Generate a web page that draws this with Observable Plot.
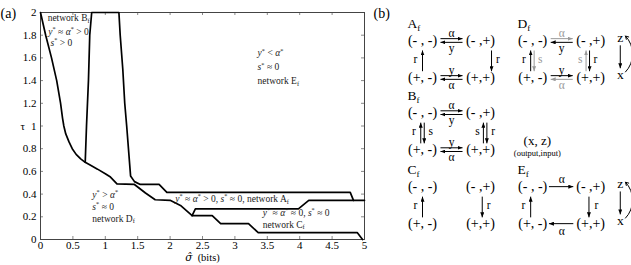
<!DOCTYPE html>
<html><head><meta charset="utf-8">
<script src="https://cdn.jsdelivr.net/npm/d3@7"></script>
<script src="https://cdn.jsdelivr.net/npm/@observablehq/plot@0.6"></script>
<style>
body{margin:0;background:#fff;}
#wrap{position:relative;width:631px;height:265px;overflow:hidden;font-family:"Liberation Serif",serif;}
#wrap svg{position:absolute;top:0;overflow:visible;}
#wrap svg, #wrap svg text{font-family:"Liberation Serif","DejaVu Serif",serif !important;}
#wrap svg text tspan.hat{font-family:"DejaVu Serif",serif !important;}
</style></head><body><div id="wrap"></div>
<script>
// ---------- panel (a) data ----------
const xTickValues = [0, 0.5, 1, 1.5, 2, 2.5, 3, 3.5, 4, 4.5, 5];
const yTickValues = [0, 0.2, 0.4, 0.6, 0.8, 1, 1.2, 1.4, 1.6, 1.8, 2];

// boundary of network B_f / D_f region (left curve + lower staircase)
const lowerX = [0, 0.08, 0.17, 0.25, 0.31, 0.34, 0.36, 0.39, 0.44, 0.49, 0.55, 0.62, 0.69, 0.8, 0.88, 1.0, 1.08, 1.18, 1.45, 1.62, 1.77, 2.0, 2.16, 2.34, 2.65, 2.78, 3.21, 3.36, 4.89, 4.97];
const lowerY = [2, 1.8, 1.6, 1.4, 1.2, 1.07, 1.0, 0.93, 0.86, 0.8, 0.75, 0.71, 0.68, 0.645, 0.62, 0.58, 0.55, 0.49, 0.485, 0.41, 0.35, 0.345, 0.3, 0.21, 0.21, 0.14, 0.14, 0.06, 0.06, 0];
// boundary of network A_f region
const upperX = [0.69, 0.71, 0.74, 0.76, 0.79, 1.21, 1.23, 1.27, 1.30, 1.33, 1.39, 1.45, 1.54, 1.83, 1.95, 4.78, 4.83];
const upperY = [0.68, 1.0, 1.4, 1.8, 2.0, 2.0, 1.8, 1.5, 1.2, 1.0, 0.56, 0.51, 0.485, 0.485, 0.415, 0.415, 0.345];
// boundary of network C_f region
const cBoundX = [2.34, 2.39, 3.98, 4.14, 5];
const cBoundY = [0.21, 0.27, 0.27, 0.345, 0.345];

const annoText = ["network B_f", "{y}^* ≈ {α}^* > 0", "{s}^* > 0",
  "{y}^* < {α}^*", "{s}^* ≈ 0", "network E_f",
  "{y}^* > {α}^*", "{s}^* ≈ 0", "network D_f",
  "{y}^* ≈ {α}^* > 0, {s}^* ≈ 0, network A_f",
  "{y}^* ≈ {α}^* ≈ 0, {s}^* ≈ 0", "network C_f"];
const annoX = [0.11, 0.12, 0.155, 3.35, 3.35, 3.35, 0.8, 0.8, 0.8, 2.08, 3.43, 3.43];
const annoY = [1.95, 1.83, 1.735, 1.64, 1.52, 1.40, 0.396, 0.29, 0.185, 0.36, 0.238, 0.132];

// ---------- panel (b) diagram data (grid units) ----------
const blockNames = ["A", "B", "C", "D", "E"];
const blockCol = [0, 0, 0, 1.9, 1.9];
const blockRow = [0, 1.95, 3.95, 0, 3.95];
const blockLabelRow = [-0.46, -0.46, -0.46, -0.46, -0.46];
const nodeText = ["(- , -)", "(- ,+)", "(+, -)", "(+,+)"];
const nodeCol = [0, 1, 0, 1];
const nodeRow = [0, 0, 1, 1];
// arrows: block, x1, y1, x2, y2, grey
const arrowDefs = [
  ["A",0.31,-0.05,0.69,-0.05,0],["A",0.69,0.05,0.31,0.05,0],["A",0.31,0.95,0.69,0.95,0],["A",0.69,1.05,0.31,1.05,0],
  ["A",0,0.83,0,0.27,0],["A",1.19,0.27,1.19,0.83,0],
  ["B",0.31,-0.05,0.69,-0.05,0],["B",0.69,0.05,0.31,0.05,0],["B",0.31,0.95,0.69,0.95,0],["B",0.69,1.05,0.31,1.05,0],
  ["B",-0.03,0.83,-0.03,0.27,0],["B",0.03,0.27,0.03,0.83,0],["B",1.05,0.83,1.05,0.27,0],["B",1.11,0.27,1.11,0.83,0],
  ["C",0,0.83,0,0.27,0],["C",1.03,0.27,1.03,0.83,0],
  ["D",0.31,-0.05,0.69,-0.05,1],["D",0.69,0.05,0.31,0.05,0],["D",0.31,0.95,0.69,0.95,0],["D",0.69,1.05,0.31,1.05,1],
  ["D",-0.035,0.83,-0.035,0.27,0],["D",0.025,0.27,0.025,0.83,1],["D",0.92,0.83,0.92,0.27,1],["D",0.98,0.27,0.98,0.83,0],
  ["D",1.51,0.13,1.51,0.75,0],
  ["E",0.28,0,0.7,0,0],["E",0.7,1,0.28,1,0],["E",-0.035,0.83,-0.035,0.27,0],["E",0.97,0.27,0.97,0.83,0],
  ["E",1.51,0.13,1.51,0.75,0]
];
// small labels: block, text, x, y, grey
const labelDefs = [
  ["A","α",0.5,-0.2,0],["A","y",0.5,0.2,0],["A","y",0.5,0.8,0],["A","α",0.5,1.2,0],["A","r",-0.12,0.5,0],["A","r",1.3,0.5,0],
  ["B","α",0.5,-0.2,0],["B","y",0.5,0.2,0],["B","y",0.5,0.8,0],["B","α",0.5,1.2,0],
  ["B","r",-0.15,0.5,0],["B","s",0.14,0.5,0],["B","s",0.95,0.5,0],["B","r",1.22,0.5,0],
  ["C","r",-0.12,0.5,0],["C","r",1.14,0.5,0],
  ["D","α",0.5,-0.2,1],["D","y",0.5,0.2,0],["D","y",0.5,0.8,0],["D","α",0.5,1.2,1],
  ["D","r",-0.15,0.5,0],["D","s",0.13,0.5,1],["D","s",0.82,0.5,1],["D","r",1.08,0.5,0],
  ["E","α",0.5,-0.2,0],["E","α",0.5,1.2,0],["E","r",-0.16,0.5,0],["E","r",1.1,0.5,0]
];
const blockLabels = ["A_f", "B_f", "C_f", "D_f", "E_f"];
const zxDefs = [["D","z",1.51,-0.07],["D","x",1.51,0.92],["E","z",1.51,-0.07],["E","x",1.51,0.92]];
const arcBlocks = ["D", "E"];
const legendText = ["(x, z)", "(output,input)"];

// ---------- helpers ----------
function rich(svg) {
  d3.select(svg).selectAll("text").each(function () {
    const el = this;
    if (el.querySelector("tspan")) return;
    const str = el.textContent;
    if (!/[{}^_]/.test(str)) return;
    const fs = parseFloat(getComputedStyle(el).fontSize) || 10;
    el.textContent = "";
    let shift = 0;
    const add = (txt, kind, italic) => {
      const t = document.createElementNS("http://www.w3.org/2000/svg", "tspan");
      t.textContent = txt;
      const target = kind === "sup" ? -0.36 * fs : kind === "sub" ? 0.2 * fs : 0;
      const dy = target - shift;
      if (dy !== 0) t.setAttribute("dy", dy.toFixed(2));
      shift = target;
      if (kind) t.setAttribute("font-size", (0.68 * fs).toFixed(2));
      if (italic) t.setAttribute("font-style", "italic");
      if (/\u0302/.test(txt)) t.setAttribute("class", "hat");
      el.appendChild(t);
    };
    let i = 0, buf = "";
    while (i < str.length) {
      const c = str[i];
      if (c === "{") { if (buf) { add(buf); buf = ""; } const j = str.indexOf("}", i); add(str.slice(i + 1, j), null, true); i = j + 1; }
      else if (c === "^" || c === "_") { if (buf) { add(buf); buf = ""; } add(str[i + 1], c === "^" ? "sup" : "sub"); i += 2; }
      else { buf += c; i++; }
    }
    if (buf) add(buf);
  });
}

const wrap = document.getElementById("wrap");
const FONT = "'Liberation Serif', 'DejaVu Serif', serif";

// ---------- panel (a) ----------
const lines = [
  ...lowerX.map((x, i) => ({s: "lower", x, y: lowerY[i]})),
  ...upperX.map((x, i) => ({s: "upper", x, y: upperY[i]})),
  ...cBoundX.map((x, i) => ({s: "c", x, y: cBoundY[i]}))
];
const annos = annoText.map((t, i) => ({t, x: annoX[i], y: annoY[i]}));
const W = 372, H = 265, mL = 40, mR = 8, mT = 12, mB = 26;
const innerW = W - mL - mR, innerH = H - mT - mB, tk = 3;

const chart = Plot.plot({
  width: W, height: H, marginLeft: mL, marginRight: mR, marginTop: mT, marginBottom: mB,
  style: {fontFamily: FONT, fontSize: "11px", color: "#000", background: "transparent"},
  x: {domain: [0, 5]},
  y: {domain: [0, 2]},
  marks: [
    Plot.tickX(xTickValues, {x: d => d, insetTop: innerH - tk, stroke: "#888"}),
    Plot.tickX(xTickValues, {x: d => d, insetBottom: innerH - tk, stroke: "#888"}),
    Plot.tickY(yTickValues, {y: d => d, insetRight: innerW - tk, stroke: "#888"}),
    Plot.tickY(yTickValues, {y: d => d, insetLeft: innerW - tk, stroke: "#888"}),
    Plot.frame({stroke: "#444"}),
    Plot.axisX({ticks: xTickValues, tickSize: 0, tickPadding: 2, tickFormat: d => String(d), label: null, fontSize: 11}),
    Plot.axisY({ticks: yTickValues, tickSize: 0, tickPadding: 4, tickFormat: d => String(d), label: null, fontSize: 11}),
    Plot.line(lines, {x: "x", y: "y", z: "s", stroke: "#000", strokeWidth: 1.7, strokeLinejoin: "round"}),
    Plot.text(annos, {x: "x", y: "y", text: "t", textAnchor: "start", fontSize: 9.5, fill: "#222"}),
    Plot.text(["τ"], {frameAnchor: "left", dx: -20, fontSize: 11, text: d => d}),
    Plot.text(["{σ\u0302}  (bits)"], {frameAnchor: "bottom", dy: 21, fontSize: 10.5, text: d => d}),
    Plot.text(["(a)"], {frameAnchor: "top-left", dx: -mL, dy: -4, textAnchor: "start", fontSize: 14, text: d => d})
  ]
});
chart.style.left = "0px";
wrap.appendChild(chart);
rich(chart);

// ---------- panel (b) ----------
const bi = b => blockNames.indexOf(b);
const nodes = [];
blockNames.forEach((b, k) => nodeText.forEach((t, j) => nodes.push({t, x: blockCol[k] + nodeCol[j], y: blockRow[k] + nodeRow[j]})));
const arrows = arrowDefs.map(([b, x1, y1, x2, y2, g]) => ({x1: blockCol[bi(b)] + x1, y1: blockRow[bi(b)] + y1, x2: blockCol[bi(b)] + x2, y2: blockRow[bi(b)] + y2, g}));
const labels = labelDefs.map(([b, t, x, y, g]) => ({t, x: blockCol[bi(b)] + x, y: blockRow[bi(b)] + y, g}));
const bLabels = blockNames.map((b, k) => ({t: blockLabels[k], x: blockCol[k] - 0.26, y: blockRow[k] + blockLabelRow[k]}));
const zx = zxDefs.map(([b, t, x, y]) => ({t, x: blockCol[bi(b)] + x, y: blockRow[bi(b)] + y}));
const arcs = arcBlocks.map(b => ({x: blockCol[bi(b)] + 1.6, y1: blockRow[bi(b)] + 0.85, y2: blockRow[bi(b)] - 0.12}));

const diag = Plot.plot({
  width: 258, height: 265, margin: 0,
  style: {fontFamily: FONT, fontSize: "12px", color: "#000", background: "transparent"},
  x: {domain: [0, 1], range: [49, 107], axis: null},
  y: {domain: [0, 1], range: [40, 77], axis: null},
  marks: [
    Plot.link(arrows.filter(d => !d.g), {x1: "x1", y1: "y1", x2: "x2", y2: "y2", stroke: "#000", strokeWidth: 1}),
    Plot.link(arrows.filter(d => d.g), {x1: "x1", y1: "y1", x2: "x2", y2: "y2", stroke: "#999", strokeWidth: 1}),
    Plot.arrow(arcs, {x1: "x", x2: "x", y1: "y1", y2: "y2", bend: -44, stroke: "#000", strokeWidth: 1, headLength: 5}),
    Plot.text(nodes, {x: "x", y: "y", text: "t", fontSize: 14, fill: "#000"}),
    Plot.text(labels.filter(d => !d.g), {x: "x", y: "y", text: "t", fontSize: 11.5, fill: "#000"}),
    Plot.text(labels.filter(d => d.g), {x: "x", y: "y", text: "t", fontSize: 11.5, fill: "#999"}),
    Plot.text(bLabels, {x: "x", y: "y", text: "t", textAnchor: "start", fontSize: 13.5, fill: "#000"}),
    Plot.text(zx, {x: "x", y: "y", text: "t", fontSize: 13.5, fill: "#000"}),
    Plot.text([legendText[0]], {x: () => 1.98, y: () => 2.72, text: d => d, fontSize: 13}),
    Plot.text([legendText[1]], {x: () => 1.98, y: () => 3.04, text: d => d, fontSize: 8.5}),
    Plot.text(["(b)"], {frameAnchor: "top-left", dy: 8, textAnchor: "start", fontSize: 14, text: d => d})
  ]
});
diag.style.left = "373px";
wrap.appendChild(diag);
rich(diag);

// filled arrowheads for the diagram links
const defs = d3.select(diag).insert("defs", ":first-child");
[["hk", "#000"], ["hg", "#999"]].forEach(([id, c]) => {
  defs.append("marker").attr("id", id).attr("viewBox", "0 0 10 10").attr("refX", 10).attr("refY", 5)
    .attr("markerWidth", 5).attr("markerHeight", 4).attr("markerUnits", "userSpaceOnUse")
    .attr("preserveAspectRatio", "none").attr("orient", "auto")
    .append("path").attr("d", "M0,0L10,5L0,10z").attr("fill", c);
});
d3.select(diag).selectAll('g[aria-label="link"]').each(function () {
  const g = d3.select(this);
  const id = g.attr("stroke") === "#999" ? "hg" : "hk";
  g.selectAll("path").attr("marker-end", `url(#${id})`);
});
</script></body></html>
